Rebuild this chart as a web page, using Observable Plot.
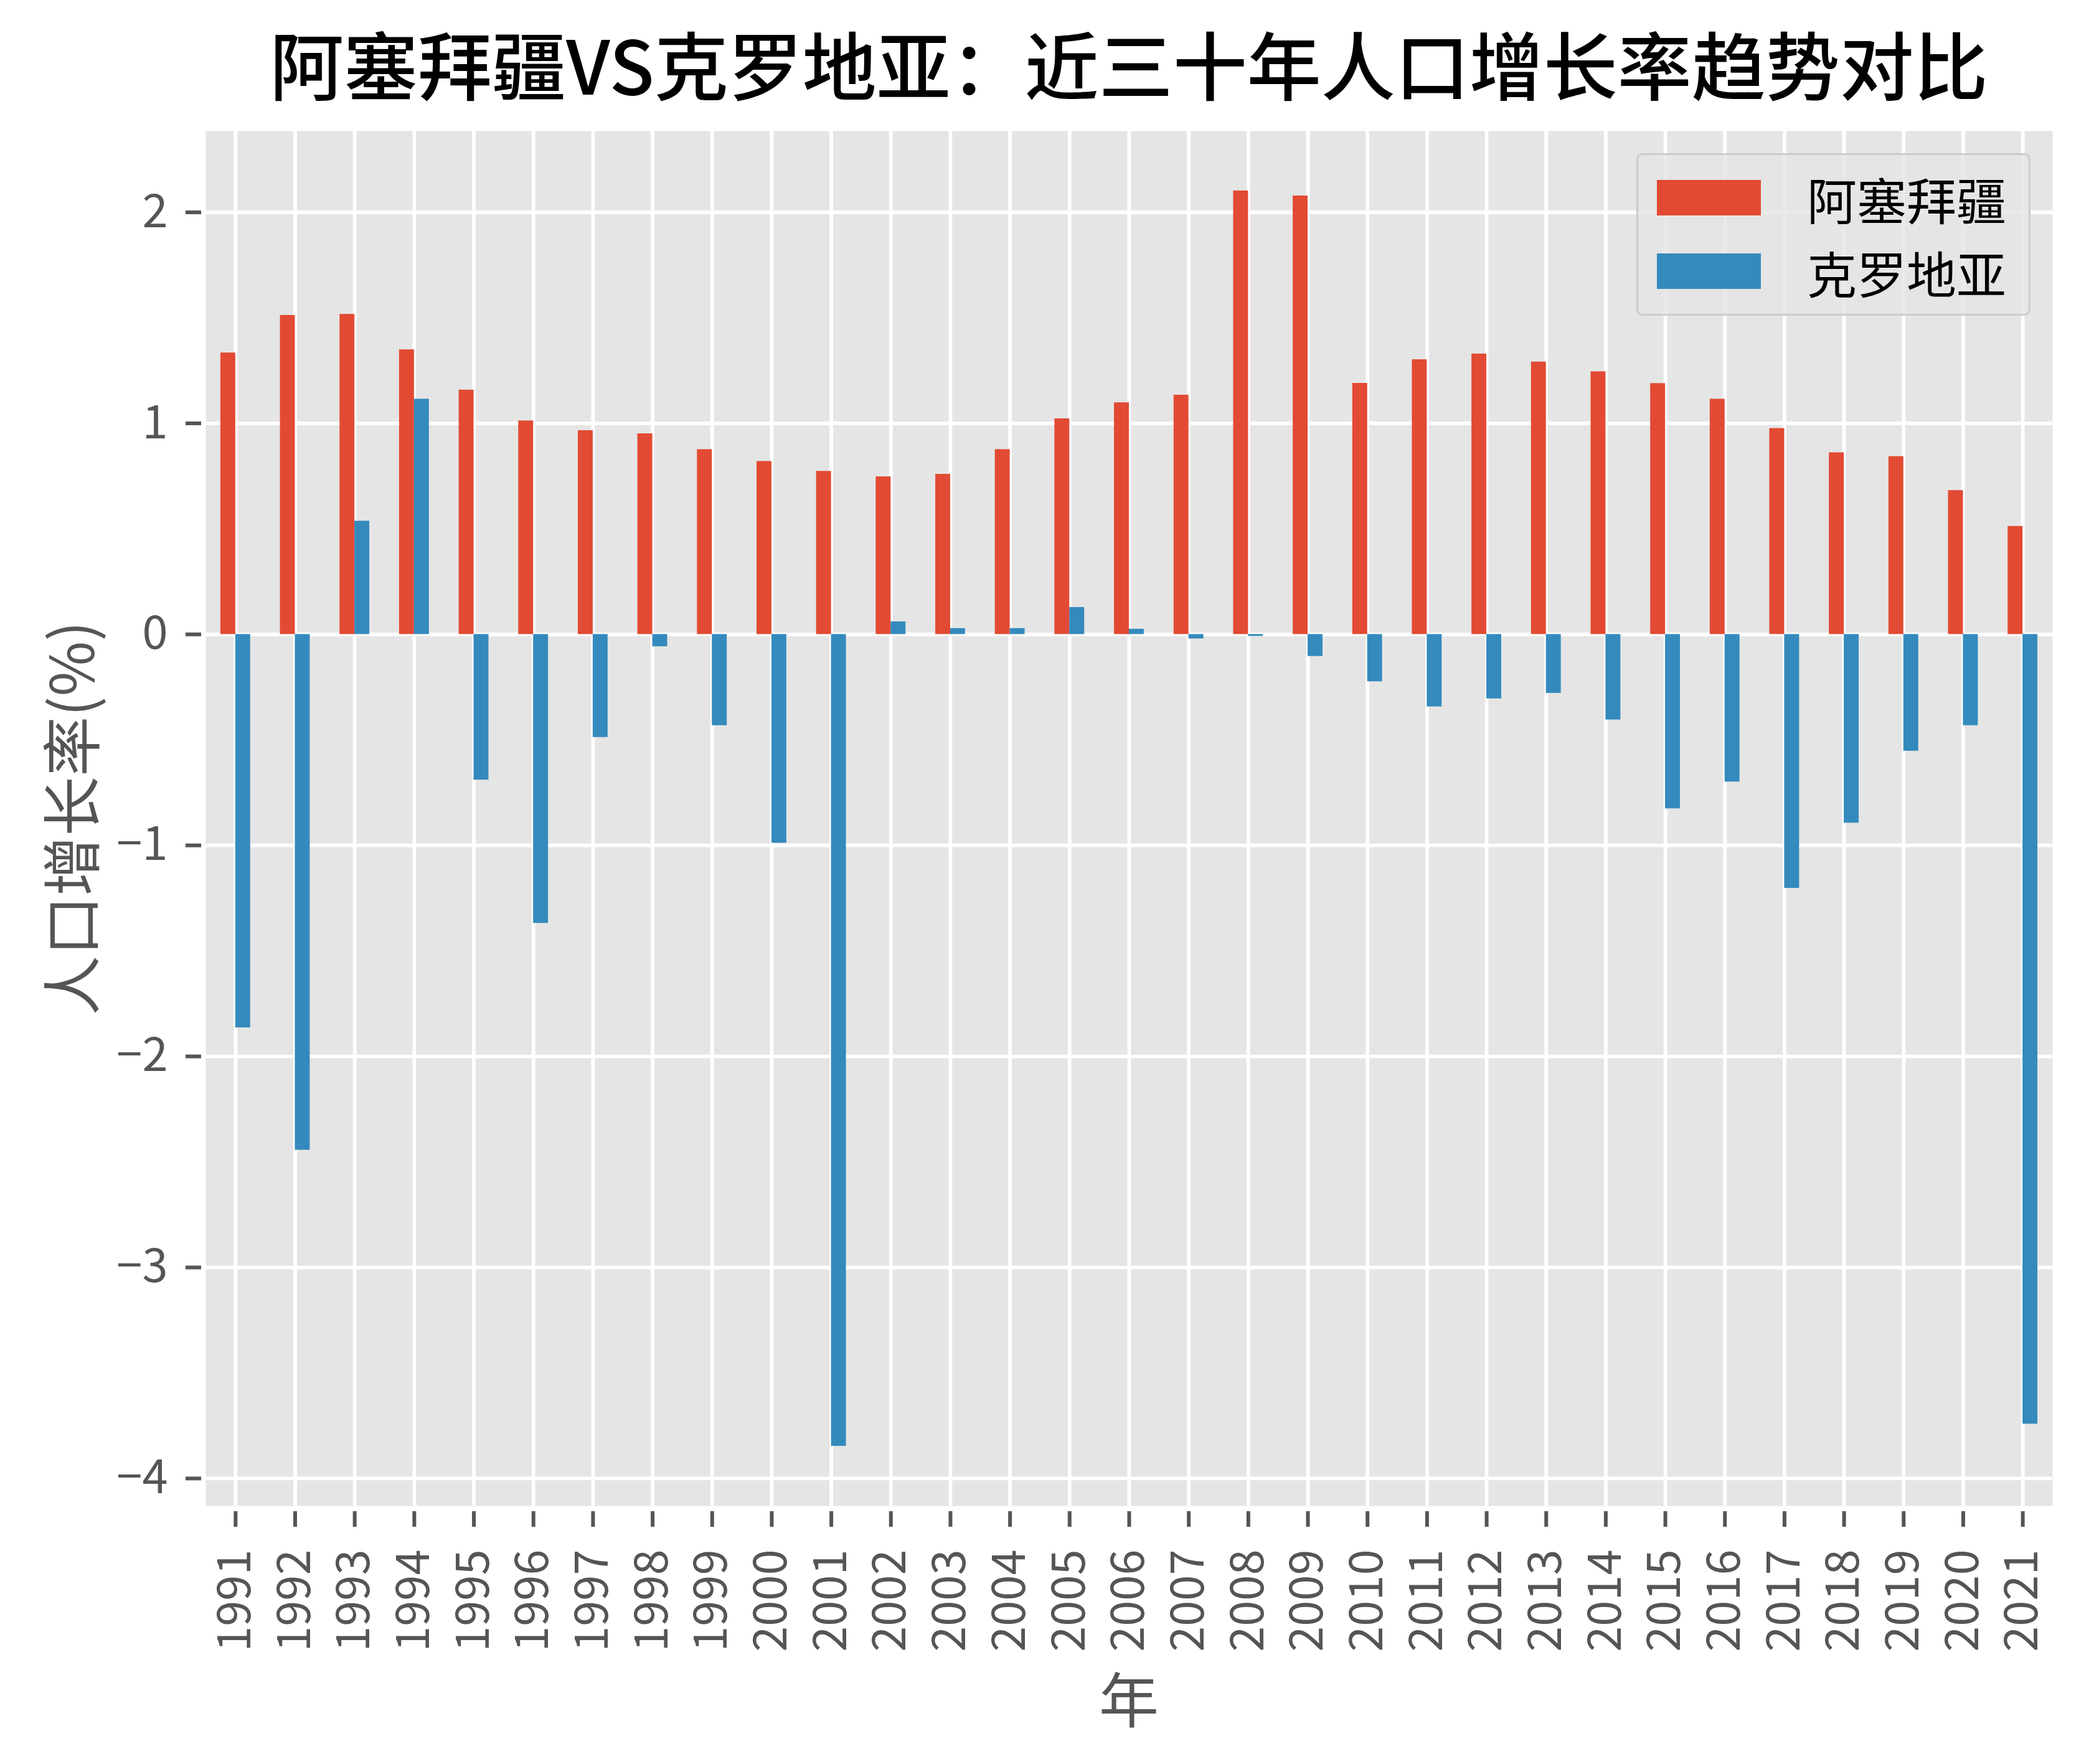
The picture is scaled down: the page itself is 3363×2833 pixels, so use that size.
<!DOCTYPE html>
<html>
<head>
<meta charset="utf-8">
<script src="https://cdn.jsdelivr.net/npm/d3@7"></script>
<script src="https://cdn.jsdelivr.net/npm/@observablehq/plot@0.6"></script>
<style>
  html, body { margin: 0; padding: 0; background: white; }
  #wrap { position: relative; width: 3363px; height: 2833px; overflow: hidden; font-family: "Noto Sans CJK SC", sans-serif; }
  #title { height: 200px; box-sizing: border-box; padding-top: 41px; text-align: center; font-size: 119px; line-height: 1; font-weight: 500; color: #000; padding-left: 263px; white-space: nowrap; }
  .ylab { position: absolute; left: 110px; top: 1314px; transform: translate(-50%, -50%) rotate(-90deg); font-size: 96px; color: #555555; white-space: nowrap; line-height: 1; }
  .xlab { position: absolute; left: 1813px; top: 2725px; transform: translate(-50%, -50%); font-size: 96px; color: #555555; line-height: 1; }
  #legend { position: absolute; left: 2628px; top: 246px; width: 633px; height: 261px; box-sizing: border-box; border: 3px solid #cccccc; border-radius: 10px; background: rgba(229,229,229,0.8); }
  .lrow { position: absolute; left: 0; height: 60px; width: 100%; }
  .lsw { position: absolute; left: 30px; width: 167px; height: 57px; }
  .ltx { position: absolute; left: 271px; font-size: 80px; line-height: 1; color: #000; white-space: nowrap; }
</style>
</head>
<body>
<div id="wrap">
  <div id="title"></div>
  <div id="chart"></div>
  <div class="ylab" id="ylab"></div>
  <div class="xlab" id="xlab"></div>
  <div id="legend"></div>
</div>
<script>
const titleText = "阿塞拜疆VS克罗地亚：近三十年人口增长率趋势对比";
const yLabel = "人口增长率(%)";
const xLabel = "年";
const seriesNames = ["阿塞拜疆", "克罗地亚"];
const seriesColors = ["#E24A33", "#348ABD"];

const years = [1991, 1992, 1993, 1994, 1995, 1996, 1997, 1998, 1999, 2000,
  2001, 2002, 2003, 2004, 2005, 2006, 2007, 2008, 2009, 2010,
  2011, 2012, 2013, 2014, 2015, 2016, 2017, 2018, 2019, 2020, 2021];

const azerbaijan = [1.334, 1.512, 1.517, 1.349, 1.158, 1.012, 0.966, 0.951, 0.876, 0.820,
  0.773, 0.747, 0.759, 0.876, 1.022, 1.098, 1.134, 2.102, 2.078, 1.190,
  1.302, 1.329, 1.291, 1.245, 1.189, 1.115, 0.976, 0.861, 0.843, 0.682, 0.512];

const croatia = [-1.864, -2.444, 0.537, 1.115, -0.690, -1.369, -0.488, -0.058, -0.432, -0.989,
  -3.847, 0.060, 0.028, 0.028, 0.128, 0.025, -0.021, -0.009, -0.104, -0.224,
  -0.343, -0.305, -0.279, -0.405, -0.826, -0.699, -1.203, -0.894, -0.553, -0.432, -3.742];

const yTicks = [-4, -3, -2, -1, 0, 1, 2];

const azData = years.map((y, i) => ({year: y, value: azerbaijan[i], series: seriesNames[0]}));
const hrData = years.map((y, i) => ({year: y, value: croatia[i], series: seriesNames[1]}));

const W = 3363, ML = 330, MR = 67;
const step = (W - ML - MR) / years.length;
const halfBand = step * 0.25;
const font = "'Noto Sans CJK SC', sans-serif";
const fmtY = d => (d < 0 ? "\u2212" + Math.abs(d) : String(d));

const chart = Plot.plot({
  width: W,
  height: 2633,
  marginLeft: ML,
  marginRight: MR,
  marginTop: 10,
  marginBottom: 415,
  style: {fontFamily: font, fontSize: "74px", color: "#555555", background: "white", overflow: "visible"},
  x: {type: "band", domain: years, paddingInner: 0.5, paddingOuter: 0.25, align: 0.5, round: false},
  y: {domain: [-4.13, 2.385]},
  marks: [
    Plot.frame({fill: "#E5E5E5", stroke: null}),
    Plot.gridX({stroke: "white", strokeOpacity: 1, strokeWidth: 5.8}),
    Plot.gridY(yTicks, {stroke: "white", strokeOpacity: 1, strokeWidth: 5.8}),
    Plot.barY(azData, {x: "year", y: "value", fill: seriesColors[0], insetRight: halfBand}),
    Plot.barY(hrData, {x: "year", y: "value", fill: seriesColors[1], insetLeft: halfBand}),
    Plot.axisX({tickSize: 25, tickPadding: 36, tickRotate: -90, dy: 9, label: null, tickFormat: d => String(d), fontSize: 74, strokeWidth: 6}),
    Plot.axisY(yTicks, {tickSize: 25, tickPadding: 29, dx: -7, label: null, tickFormat: fmtY, fontSize: 74, strokeWidth: 6})
  ]
});
document.getElementById("chart").appendChild(chart);

document.getElementById("title").textContent = titleText;
document.getElementById("ylab").textContent = yLabel;
document.getElementById("xlab").textContent = xLabel;

const legend = document.getElementById("legend");
const rowTops = [40, 158];
seriesNames.forEach((name, i) => {
  const row = document.createElement("div");
  row.className = "lrow";
  row.style.top = rowTops[i] + "px";
  const sw = document.createElement("div");
  sw.className = "lsw";
  sw.style.background = seriesColors[i];
  const tx = document.createElement("div");
  tx.className = "ltx";
  tx.style.top = "-11px";
  tx.textContent = name;
  row.appendChild(sw);
  row.appendChild(tx);
  legend.appendChild(row);
});
</script>
</body>
</html>
